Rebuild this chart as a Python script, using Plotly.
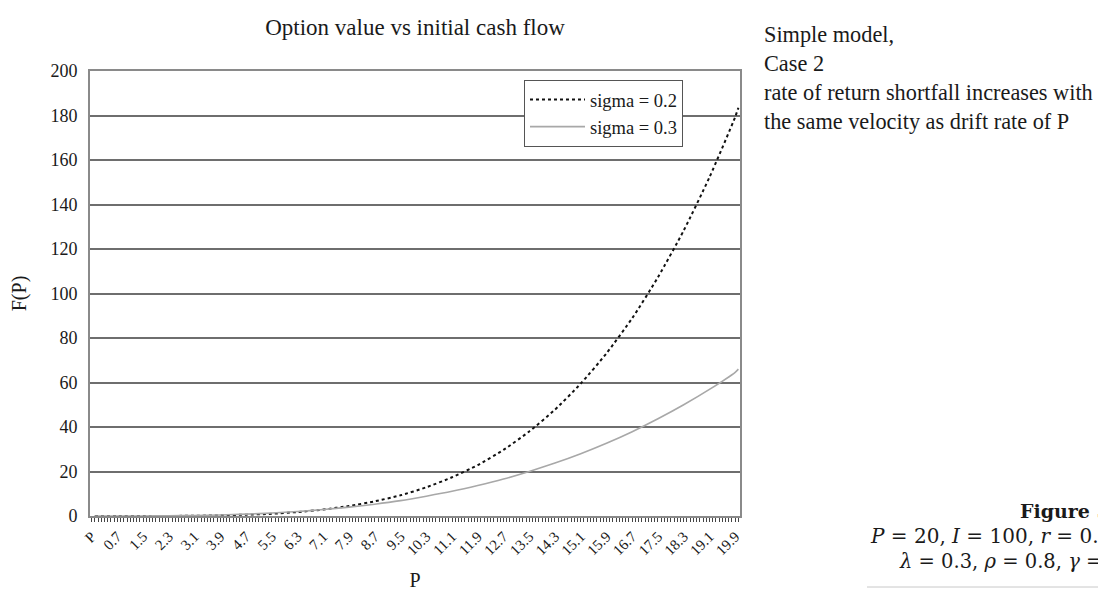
import plotly.graph_objects as go

# ---------------- data ----------------
# category axis: header cell "P" followed by P = 0.0 ... 20.0 (step 0.1)
categories = ["P"] + [f"{k / 10:.1f}" for k in range(201)]

# points (at the labelled categories plus both ends)
p_points = ["0.0", "0.7", "1.5", "2.3", "3.1", "3.9", "4.7", "5.5", "6.3", "7.1",
            "7.9", "8.7", "9.5", "10.3", "11.1", "11.9", "12.7", "13.5", "14.3",
            "15.1", "15.9", "16.7", "17.5", "18.3", "19.1", "19.9", "20.0"]

sigma_02 = [0, 0, 0.01, 0.03, 0.1, 0.3, 0.6, 1.0, 1.8, 2.9,
            4.5, 6.6, 9.3, 12.9, 17.4, 22.9, 29.7, 38.0, 47.8,
            59.5, 73.1, 88.9, 107.3, 128.3, 152.2, 179.3, 183.5]

sigma_03 = [0, 0.003, 0.03, 0.1, 0.24, 0.48, 0.84, 1.35, 2.0, 2.9,
            4.0, 5.3, 6.9, 8.9, 11.1, 13.7, 16.6, 20.0, 23.8,
            28.0, 32.7, 37.9, 43.7, 50.0, 56.9, 64.6, 66.0]

y_ticks = [0, 20, 40, 60, 80, 100, 120, 140, 160, 180, 200]

title_text = "Option value vs initial cash flow"
side_text = ("Simple model,<br>Case 2<br>rate of return shortfall increases with"
             "<br>the same velocity as drift rate of P")

# ---------------- layout helpers ----------------
W, H = 1106, 590
OFF = 8                                  # page body margin of the html page
L, R, T, B = 90 - OFF, 740 - OFF, 71 - OFF, 516 - OFF   # plot area (figure px)
SERIF = "Liberation Serif, Times New Roman, serif"
MATH = "DejaVu Serif, serif"


def px(xp):
    """page x pixel -> paper coordinate"""
    return (xp - OFF - L) / (R - L)


def py(yp):
    """page y pixel -> paper coordinate"""
    return (B - (yp - OFF)) / (B - T)


fig = go.Figure()
fig.add_trace(go.Scatter(
    x=p_points, y=sigma_02, name="sigma = 0.2", mode="lines",
    line=dict(color="#111111", width=2, dash="dot", shape="spline", smoothing=0.6),
))
fig.add_trace(go.Scatter(
    x=p_points, y=sigma_03, name="sigma = 0.3", mode="lines",
    line=dict(color="#a8a8a8", width=1.6, shape="spline", smoothing=0.6),
))

fig.update_layout(
    width=W, height=H,
    margin=dict(l=L, r=W - R, t=T, b=H - B, autoexpand=False),
    paper_bgcolor="white", plot_bgcolor="white",
    font=dict(family=SERIF, color="#1a1a1a"),
    title=dict(text=title_text, x=0.5, xref="paper", xanchor="center",
               y=1 - (27 - OFF) / H, yanchor="middle",
               font=dict(family=SERIF, size=23, color="#1a1a1a")),
    showlegend=True,
    legend=dict(x=px(683), xanchor="right", y=py(80), yanchor="top",
                bgcolor="white", bordercolor="#555555", borderwidth=1,
                font=dict(family=SERIF, size=18.5, color="#1a1a1a"),
                itemwidth=55, tracegroupgap=0),
)

fig.update_xaxes(
    type="category", categoryorder="array", categoryarray=categories,
    range=[-0.5, len(categories) - 0.5],
    tickmode="linear", tick0=0, dtick=1, ticklabelstep=8,
    ticks="outside", ticklen=4, tickwidth=1, tickcolor="#444444",
    tickangle=-45, tickfont=dict(family=SERIF, size=15, color="#1a1a1a"),
    showgrid=False, zeroline=False,
    showline=True, linecolor="#8a8a8a", linewidth=2, mirror=True,
    title=dict(text="P", font=dict(family=SERIF, size=20, color="#1a1a1a"), standoff=16),
)

fig.update_yaxes(
    range=[0, 200], tickmode="array", tickvals=y_ticks,
    ticks="", ticklabelstandoff=7,
    tickfont=dict(family=SERIF, size=18, color="#1a1a1a"),
    showgrid=True, gridcolor="#6e6e6e", gridwidth=1.6, zeroline=False,
    showline=True, linecolor="#8a8a8a", linewidth=2, mirror=True,
    title=dict(text="F(P)", font=dict(family=SERIF, size=20, color="#1a1a1a"), standoff=22),
)

# right-hand note
fig.add_annotation(text=side_text, xref="paper", yref="paper",
                   x=px(762), y=py(20), xanchor="left", yanchor="top",
                   align="left", showarrow=False,
                   font=dict(family=SERIF, size=22.3, color="#1a1a1a"))

# bottom-right caption (cut by the page edge, as in the reference)
fig.add_annotation(text="<b>Figure 5</b>", xref="paper", yref="paper",
                   x=px(1018), y=py(511), xanchor="left", yanchor="middle",
                   showarrow=False, font=dict(family=MATH, size=19, color="#1a1a1a"))
fig.add_annotation(text="<i>P</i> = 20, <i>I</i> = 100, <i>r</i> = 0.05,",
                   xref="paper", yref="paper",
                   x=px(868), y=py(536), xanchor="left", yanchor="middle",
                   showarrow=False, font=dict(family=MATH, size=20, color="#1a1a1a"))
fig.add_annotation(text="<i>λ</i> = 0.3, <i>ρ</i> = 0.8, <i>γ</i> =",
                   xref="paper", yref="paper",
                   x=px(897), y=py(561), xanchor="left", yanchor="middle",
                   showarrow=False, font=dict(family=MATH, size=19.5, color="#1a1a1a"))
fig.add_shape(type="line", xref="paper", yref="paper",
              x0=px(867), x1=px(1114), y0=py(587), y1=py(587),
              line=dict(color="#c8c8c8", width=1))

fig.write_html("out.html")
